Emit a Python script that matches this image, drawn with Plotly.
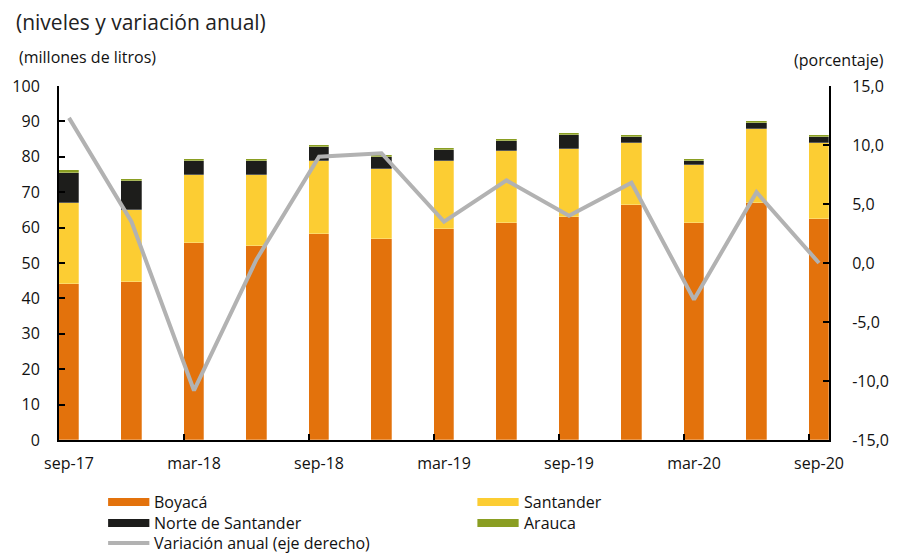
import plotly.graph_objects as go

categories = ["sep-17", "dic-17", "mar-18", "jun-18", "sep-18", "dic-18", "mar-19",
              "jun-19", "sep-19", "dic-19", "mar-20", "jun-20", "sep-20"]
boyaca = [44.0, 44.5, 55.7, 54.8, 58.1, 56.9, 59.7, 61.4, 63.1, 66.5, 61.4, 67.0, 62.5]
santander = [23.0, 20.4, 19.2, 20.1, 20.8, 19.7, 19.2, 20.3, 19.2, 17.5, 16.4, 20.9, 21.5]
norte = [8.5, 8.4, 4.0, 4.0, 4.0, 3.4, 2.9, 2.9, 4.0, 1.7, 1.1, 1.7, 1.7]
arauca = [0.8, 0.5, 0.6, 0.6, 0.5, 0.6, 0.6, 0.5, 0.5, 0.6, 0.6, 0.6, 0.6]
variacion = [12.3, 3.5, -10.8, 0.3, 9.0, 9.3, 3.5, 7.0, 4.0, 6.8, -3.1, 6.0, 0.0]

left_ticks = list(range(0, 101, 10))
right_ticks = [-15, -10, -5, 0, 5, 10, 15]
right_ticktext = [f"{v:.1f}".replace(".", ",") for v in right_ticks]

C_BOY = "#E3720C"
C_SAN = "#FCCD33"
C_NOR = "#1D1D1B"
C_ARA = "#8A9E22"
C_LIN = "#B2B2B2"

W, H = 901, 554
L, R, T, B = 54, 838, 86, 440
FONT = "Open Sans"

def px(x):
    return (x - L) / (R - L)

def py(y):
    return (B - y) / (B - T)

n = len(categories)
xs = list(range(n))

fig = go.Figure()
bar_line = dict(width=0.6, color="rgba(255,255,255,0.45)")
for name, vals, col in [("Boyacá", boyaca, C_BOY), ("Santander", santander, C_SAN),
                        ("Norte de Santander", norte, C_NOR), ("Arauca", arauca, C_ARA)]:
    fig.add_trace(go.Bar(x=xs, y=vals, name=name, marker=dict(color=col, line=bar_line),
                         width=0.33, showlegend=False))

fig.add_trace(go.Scatter(x=xs, y=variacion, name="Variación anual (eje derecho)", mode="lines",
                         line=dict(color=C_LIN, width=4), yaxis="y2", showlegend=False))

# invisible trace to carry the tick-mark axis
fig.add_trace(go.Scatter(x=[xs[0]], y=[0], xaxis="x2", mode="markers",
                         marker=dict(opacity=0), showlegend=False, hoverinfo="skip"))

xrange = [-0.16, n - 1 + 0.16]
tick_font = dict(family=FONT, size=16, color="#111")

fig.update_layout(
    width=W, height=H,
    margin=dict(l=L, r=W - R, t=T, b=H - B),
    barmode="stack",
    bargap=0,
    plot_bgcolor="white", paper_bgcolor="white",
    font=dict(family=FONT, size=16, color="#111"),
    xaxis=dict(range=xrange, tickvals=xs[::2], ticktext=categories[::2], ticks="",
               showline=True, linecolor="black", linewidth=2, showgrid=False, zeroline=False,
               tickfont=tick_font, ticklabelstandoff=8),
    xaxis2=dict(range=xrange, overlaying="x", anchor="y",
                tickvals=[i - 0.16 for i in xs[::2]], ticks="inside", ticklen=6, tickwidth=1.5,
                tickcolor="black", showticklabels=False, showgrid=False, zeroline=False,
                showline=False, side="bottom"),
    yaxis=dict(range=[0, 100], tickvals=left_ticks, ticks="inside", ticklen=6, tickwidth=1.5,
               tickcolor="black", showline=True, linecolor="black", linewidth=2,
               showgrid=False, zeroline=False, tickfont=tick_font, ticklabelstandoff=14),
    yaxis2=dict(range=[-15, 15], tickvals=right_ticks, ticktext=right_ticktext, overlaying="y",
                side="right", ticks="inside", ticklen=6, tickwidth=1.5, tickcolor="black",
                showline=True, linecolor="black", linewidth=2, showgrid=False, zeroline=False,
                tickfont=tick_font, ticklabelstandoff=18),
    showlegend=False,
)

annotations = [
    dict(text="(niveles y variación anual)", x=px(8), y=py(22), xanchor="left", yanchor="middle",
         font=dict(family=FONT, size=21, color="#222")),
    dict(text="(millones de litros)", x=px(11), y=py(57), xanchor="left", yanchor="middle",
         font=dict(family=FONT, size=16, color="#111")),
    dict(text="(porcentaje)", x=px(896), y=py(60), xanchor="right", yanchor="middle",
         font=dict(family=FONT, size=16, color="#111")),
]

shapes = []
legend_items = [
    ("Boyacá", C_BOY, 104, 502, "rect"),
    ("Santander", C_SAN, 480, 502, "rect"),
    ("Norte de Santander", C_NOR, 104, 523, "rect"),
    ("Arauca", C_ARA, 480, 523, "rect"),
    ("Variación anual (eje derecho)", C_LIN, 104, 543, "line"),
]
for label, col, x0, yc, kind in legend_items:
    if kind == "rect":
        shapes.append(dict(type="rect", xref="paper", yref="paper", x0=px(x0), x1=px(x0 + 42),
                           y0=py(yc - 4), y1=py(yc + 4), fillcolor=col, line=dict(width=0)))
    else:
        shapes.append(dict(type="line", xref="paper", yref="paper", x0=px(x0), x1=px(x0 + 42),
                           y0=py(yc), y1=py(yc), line=dict(color=col, width=4)))
    annotations.append(dict(text=label, x=px(x0 + 45), y=py(yc), xanchor="left", yanchor="middle",
                            font=dict(family=FONT, size=16, color="#111")))

for a in annotations:
    a.update(xref="paper", yref="paper", showarrow=False)

fig.update_layout(annotations=annotations, shapes=shapes)
fig.write_html("out.html", config={"displayModeBar": False},
               post_script="document.body.style.margin='0';")
